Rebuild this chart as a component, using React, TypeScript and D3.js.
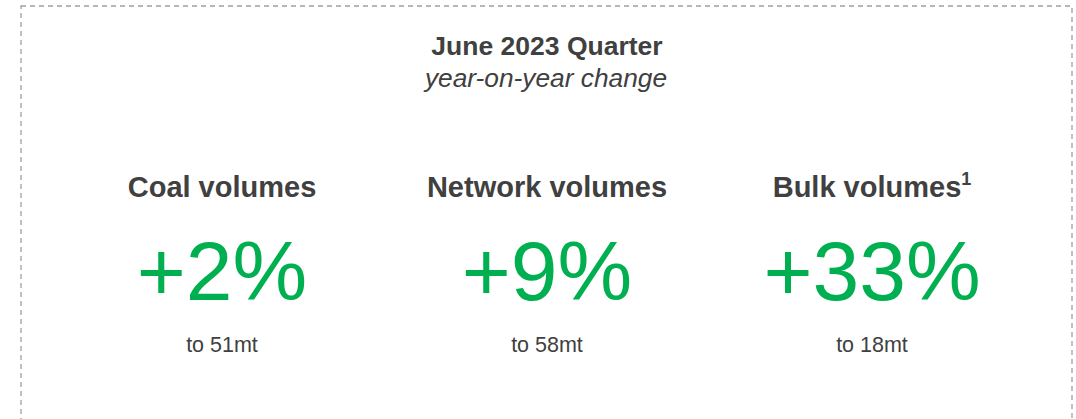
import React from "react";
import * as d3 from "d3";

const title = "June 2023 Quarter";
const subtitle = "year-on-year change";
const categories = ["Coal volumes", "Network volumes", "Bulk volumes"];
const footnotes = ["", "", "1"];
const changes = [2, 9, 33];
const volumes = [51, 58, 18];
const unit = "mt";

const W = 1076;
const H = 419;

export default function App() {
  const x = d3.scalePoint<string>().domain(categories).range([222, 872]);
  const fmt = d3.format("+d");
  const font = "'Liberation Sans', Arial, Helvetica, sans-serif";
  const textColor = "#404040";
  const green = "#00b050";
  return (
    <svg
      width={W}
      height={H}
      style={{ position: "absolute", left: 0, top: 0, background: "#fff" }}
      fontFamily={font}
    >
      <rect
        x={21}
        y={6}
        width={1051}
        height={440}
        fill="none"
        stroke="#a0a0a0"
        strokeWidth={1.3}
        strokeDasharray="5,4"
      />
      <text x={547} y={55} textAnchor="middle" fontSize={26.5} fontWeight="bold" fill={textColor}>
        {title}
      </text>
      <text x={546} y={87} textAnchor="middle" fontSize={26.3} fontStyle="italic" fill={textColor}>
        {subtitle}
      </text>
      {categories.map((c, i) => {
        const cx = x(c) as number;
        return (
          <g key={c}>
            <text x={cx} y={197} textAnchor="middle" fontSize={29} fontWeight="bold" fill={textColor}>
              {c}
              {footnotes[i] ? (
                <tspan fontSize={18} dy={-12}>
                  {footnotes[i]}
                </tspan>
              ) : null}
            </text>
            <text x={cx} y={300} textAnchor="middle" fontSize={84} fill={green}>
              {fmt(changes[i]) + "%"}
            </text>
            <text x={cx} y={352} textAnchor="middle" fontSize={21.5} fill={textColor}>
              {`to ${volumes[i]}${unit}`}
            </text>
          </g>
        );
      })}
    </svg>
  );
}
